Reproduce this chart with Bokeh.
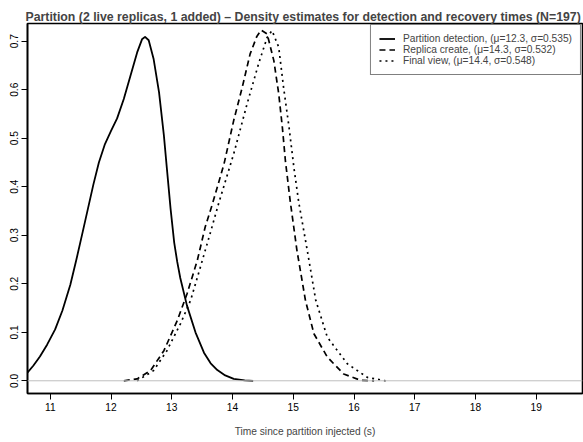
from bokeh.plotting import figure
from bokeh.models import Range1d, FixedTicker, Span, Legend, LegendItem, PrintfTickFormatter
from bokeh.embed import file_html
from bokeh.resources import INLINE

title_text = "Partition (2 live replicas, 1 added) \u2013 Density estimates for detection and recovery times (N=197)"
x_label = "Time since partition injected (s)"
x_ticks = [11, 12, 13, 14, 15, 16, 17, 18, 19]
y_ticks = [0.0, 0.1, 0.2, 0.3, 0.4, 0.5, 0.6, 0.7]

series_names = [
    "Partition detection, (\u03bc=12.3, \u03c3=0.535)",
    "Replica create, (\u03bc=14.3, \u03c3=0.532)",
    "Final view, (\u03bc=14.4, \u03c3=0.548)",
]

detect_x = [10.62, 10.72, 10.83, 10.95, 11.08, 11.20, 11.33, 11.43, 11.53, 11.62,
            11.71, 11.80, 11.90, 12.00, 12.10, 12.21, 12.32, 12.43, 12.51, 12.56,
            12.62, 12.70, 12.79, 12.87, 12.92, 12.98, 13.04, 13.09, 13.14, 13.25,
            13.39, 13.53, 13.64, 13.75, 13.88, 14.02, 14.20, 14.34]
detect_y = [0.016, 0.031, 0.050, 0.075, 0.106, 0.145, 0.198, 0.250, 0.305, 0.355,
            0.405, 0.450, 0.488, 0.515, 0.541, 0.581, 0.629, 0.677, 0.704, 0.709,
            0.702, 0.664, 0.595, 0.506, 0.437, 0.355, 0.285, 0.245, 0.212, 0.155,
            0.100, 0.058, 0.036, 0.022, 0.011, 0.004, 0.001, 0.000]

create_x = [12.21, 12.43, 12.65, 12.87, 13.09, 13.25, 13.42, 13.55, 13.67, 13.86,
            14.02, 14.16, 14.29, 14.40, 14.47, 14.57, 14.68, 14.76, 14.82, 14.87,
            14.95, 15.06, 15.20, 15.34, 15.56, 15.83, 16.11, 16.33]
create_y = [0.000, 0.004, 0.021, 0.062, 0.124, 0.179, 0.248, 0.317, 0.365, 0.447,
            0.537, 0.605, 0.674, 0.710, 0.723, 0.715, 0.660, 0.592, 0.523, 0.454,
            0.370, 0.269, 0.166, 0.097, 0.049, 0.014, 0.001, 0.000]

final_x = [12.43, 12.70, 12.92, 13.14, 13.31, 13.47, 13.63, 13.77, 14.02, 14.24,
           14.43, 14.57, 14.65, 14.76, 14.84, 14.93, 15.01, 15.09, 15.23, 15.37,
           15.56, 15.89, 16.22, 16.52]
final_y = [0.000, 0.021, 0.062, 0.117, 0.166, 0.234, 0.303, 0.365, 0.468, 0.571,
           0.654, 0.708, 0.722, 0.688, 0.605, 0.523, 0.440, 0.368, 0.269, 0.166,
           0.090, 0.035, 0.007, 0.000]

FONT = "Liberation Sans"
SIZE = "10.2px"

p = figure(width=583, height=442, output_backend="svg", toolbar_location=None,
           x_range=Range1d(10.625, 19.761), y_range=Range1d(-0.0262, 0.7366),
           min_border_left=27, min_border_right=1, min_border_top=23, min_border_bottom=49)

p.title.text = title_text
p.title.text_font = FONT
p.title.text_font_size = "12.3px"
p.title.text_font_style = "bold"
p.title.align = "left"
p.title.offset = -2
p.title.standoff = 0

p.xgrid.visible = False
p.ygrid.visible = False
p.outline_line_color = "black"
p.outline_line_width = 1.6
p.background_fill_color = "white"
p.border_fill_color = "white"

for ax in (p.xaxis[0], p.yaxis[0]):
    ax.axis_line_color = "black"
    ax.axis_line_width = 1.6
    ax.major_tick_in = 0
    ax.major_tick_out = 6
    ax.major_tick_line_width = 1
    ax.minor_tick_line_color = None
    ax.major_label_text_font = FONT
    ax.major_label_text_font_size = SIZE
    ax.major_label_text_color = "black"

p.xaxis.ticker = FixedTicker(ticks=x_ticks)
p.xaxis.major_label_standoff = 3
p.xaxis.axis_label = x_label
p.xaxis.axis_label_text_font = FONT
p.xaxis.axis_label_text_font_size = SIZE
p.xaxis.axis_label_text_font_style = "normal"
p.xaxis.axis_label_standoff = 12

p.yaxis.ticker = FixedTicker(ticks=y_ticks)
p.yaxis.formatter = PrintfTickFormatter(format="%.1f")
p.yaxis.major_label_orientation = "vertical"
p.yaxis.major_label_standoff = 3

zero = Span(location=0, dimension="width", line_color="#bebebe", line_width=1)
p.add_layout(zero)

r1 = p.line(detect_x, detect_y, line_color="black", line_width=1.8, line_join="round")
r2 = p.line(create_x, create_y, line_color="black", line_width=1.7, line_dash="6 4",
            line_join="round")
r3 = p.line(final_x, final_y, line_color="black", line_width=1.7, line_dash="2 4",
            line_join="round")

legend = Legend(items=[LegendItem(label=series_names[0], renderers=[r1]),
                       LegendItem(label=series_names[1], renderers=[r2]),
                       LegendItem(label=series_names[2], renderers=[r3])],
                location="top_right", margin=1, padding=8, spacing=0,
                glyph_width=16, glyph_height=9, label_height=9, label_standoff=8,
                label_text_font=FONT, label_text_font_size=SIZE,
                border_line_color="black", border_line_width=1.2,
                background_fill_color="white", background_fill_alpha=1.0)
p.add_layout(legend)

open("out.html", "w").write(file_html(p, INLINE))
